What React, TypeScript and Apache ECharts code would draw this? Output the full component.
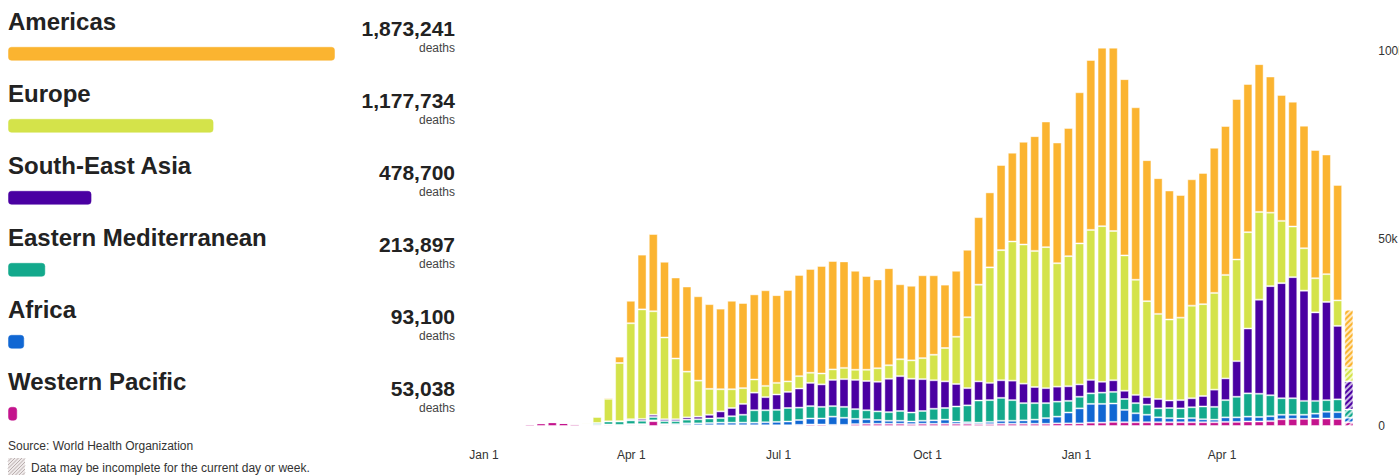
import { useEffect, useRef } from 'react';
import * as echarts from 'echarts';

// ---------- Data ----------
const regions = ['Americas', 'Europe', 'South-East Asia', 'Eastern Mediterranean', 'Africa', 'Western Pacific'];
const regionTotals = [1873241, 1177734, 478700, 213897, 93100, 53038];
const regionColors = ['#fbb430', '#d4e34a', '#4a00a2', '#13a98c', '#1167d3', '#c4148d'];

const firstWeekStart = '2020-01-20';
// weekly deaths, thousands
const weeklyAmericas = [0, 0, 0, 0, 0, 0, 0, 0.1, 0.35, 1.7, 6.0, 14.6, 20.6, 20.2, 21.6, 22.7, 22.5, 22.6, 21.5, 23.6, 22.7, 22.7, 25.5, 23.4, 24.4, 27.0, 27.7, 28.7, 28.9, 28.4, 26.4, 25.0, 23.7, 25.9, 20.0, 19.9, 22.1, 21.2, 16.9, 17.6, 18.0, 18.0, 20.0, 22.7, 23.7, 27.4, 30.6, 33.5, 32.2, 34.2, 40.3, 45.3, 47.6, 48.9, 47.0, 46.0, 37.6, 36.2, 34.4, 32.7, 33.7, 35.0, 38.7, 39.7, 42.8, 39.5, 39.4, 36.3, 33.6, 33.3, 32.7, 34.2, 31.9, 30.8, 15.5];
const weeklyEurope = [0, 0, 0, 0, 0, 0, 0.3, 1.6, 6.0, 15.5, 25.6, 29.2, 27.6, 21.8, 16.2, 12.2, 9.6, 6.9, 5.9, 5.0, 4.2, 3.5, 3.0, 3.1, 2.8, 3.3, 2.7, 2.9, 2.8, 3.0, 2.7, 3.0, 3.6, 3.6, 4.5, 4.9, 5.6, 6.8, 8.9, 12.6, 18.9, 25.8, 30.8, 34.7, 37.1, 37.1, 36.3, 37.6, 32.9, 34.7, 37.6, 40.0, 41.5, 39.8, 36.1, 30.7, 25.6, 22.7, 21.6, 22.0, 24.7, 24.5, 25.8, 27.6, 27.1, 25.7, 23.4, 19.6, 16.6, 13.5, 11.3, 9.1, 7.4, 6.8, 3.6];
const weeklySouthEastAsia = [0, 0, 0, 0, 0, 0, 0, 0.02, 0.05, 0.1, 0.3, 0.5, 0.6, 0.5, 0.5, 0.6, 0.7, 1.0, 1.8, 2.2, 2.9, 4.7, 3.5, 4.1, 4.3, 5.1, 6.2, 6.0, 7.0, 7.4, 7.8, 7.8, 7.9, 8.9, 9.3, 9.0, 8.5, 7.6, 7.1, 6.0, 4.6, 5.1, 4.6, 4.7, 5.2, 5.2, 4.3, 4.0, 4.0, 3.9, 3.3, 3.6, 2.9, 3.1, 2.2, 2.2, 2.0, 2.5, 2.0, 2.2, 2.4, 2.8, 4.6, 5.8, 9.5, 17.3, 25.1, 29.1, 30.7, 32.3, 29.4, 23.6, 26.2, 19.6, 7.5];
const weeklyEasternMediterranean = [0, 0, 0, 0, 0, 0.15, 0.15, 0.45, 0.8, 0.9, 1.0, 0.9, 0.9, 0.8, 0.8, 1.0, 1.1, 1.2, 1.2, 1.7, 2.1, 3.3, 3.2, 3.2, 3.6, 3.3, 3.3, 3.1, 2.8, 2.9, 2.6, 2.4, 2.3, 2.3, 2.6, 2.4, 2.6, 3.1, 3.1, 4.0, 4.5, 5.9, 5.8, 6.1, 5.5, 4.6, 4.4, 4.0, 4.0, 3.1, 3.1, 2.8, 3.0, 3.1, 2.9, 2.7, 2.7, 2.4, 2.7, 2.7, 2.9, 3.4, 3.4, 4.6, 5.5, 6.2, 6.2, 5.6, 4.4, 4.4, 3.7, 3.4, 3.1, 3.4, 2.2];
const weeklyAfrica = [0, 0, 0, 0, 0, 0, 0, 0.05, 0.1, 0.1, 0.2, 0.2, 0.2, 0.2, 0.3, 0.4, 0.5, 0.6, 0.7, 0.7, 0.7, 0.7, 0.8, 0.9, 1.0, 1.3, 1.6, 1.6, 2.2, 1.9, 1.4, 1.2, 1.0, 0.8, 0.8, 0.7, 0.8, 0.9, 1.1, 0.6, 0.4, 0.4, 0.6, 0.8, 0.8, 0.9, 1.1, 1.5, 1.8, 2.9, 4.0, 5.0, 5.0, 4.9, 3.3, 2.4, 2.0, 1.3, 1.1, 1.0, 1.1, 0.8, 0.7, 1.2, 1.2, 1.3, 1.2, 1.3, 1.2, 1.1, 1.1, 1.3, 1.8, 1.8, 1.2];
const weeklyWesternPacific = [0.2, 0.45, 0.7, 1.0, 0.8, 0.45, 0.25, 0.3, 0.3, 0.2, 0.3, 0.3, 1.3, 0.3, 0.2, 0.3, 0.2, 0.2, 0.2, 0.2, 0.2, 0.2, 0.2, 0.2, 0.2, 0.3, 0.4, 0.4, 0.3, 0.3, 0.5, 0.6, 0.6, 0.6, 0.6, 0.5, 0.6, 0.6, 0.6, 0.6, 0.6, 0.5, 0.5, 0.6, 0.6, 0.6, 0.6, 0.6, 0.7, 0.7, 0.7, 0.9, 0.9, 1.1, 1.0, 1.0, 1.0, 1.0, 1.0, 1.0, 1.0, 1.0, 1.0, 1.1, 1.1, 1.2, 1.2, 1.3, 1.8, 1.9, 1.9, 2.0, 2.0, 1.9, 1.0];

const tickDates = ['2020-01-01', '2020-04-01', '2020-07-01', '2020-10-01', '2021-01-01', '2021-04-01'];
const tickLabels = ['Jan 1', 'Apr 1', 'Jul 1', 'Oct 1', 'Jan 1', 'Apr 1'];
const yMax = 105;
const yInterval = 50;

const sourceText = 'Source: World Health Organization';
const noteText = 'Data may be incomplete for the current day or week.';
const unitText = 'deaths';

// ---------- helpers ----------
const DAY = 86400000;
const ts = (s: string) => Date.parse(s + 'T00:00:00Z');
const fmt = (n: number) => n.toLocaleString('en-US');
const FONT = '"Liberation Sans", Arial, Helvetica, sans-serif';

function tint(hex: string, a: number) {
  const n = parseInt(hex.slice(1), 16);
  return `rgba(${(n >> 16) & 255},${(n >> 8) & 255},${n & 255},${a})`;
}

export default function App() {
  const ref = useRef<HTMLDivElement>(null);

  useEffect(() => {
    if (!ref.current) return;
    const chart = echarts.init(ref.current, undefined, { renderer: 'svg' });

    // stacking order: bottom -> top
    const stackOrder = [
      { idx: 5, data: weeklyWesternPacific },
      { idx: 4, data: weeklyAfrica },
      { idx: 3, data: weeklyEasternMediterranean },
      { idx: 2, data: weeklySouthEastAsia },
      { idx: 1, data: weeklyEurope },
      { idx: 0, data: weeklyAmericas },
    ];
    const t0 = ts(firstWeekStart);
    const origin = ts(tickDates[0]);
    const tickDays = tickDates.map((d) => Math.round((ts(d) - origin) / DAY));

    // layout of main grid (pixels)
    const pxPerDay = 11.33 / 7;
    const originX = 484;
    const minDay = -20;
    const maxDay = 550;
    const gridLeft = originX + minDay * pxPerDay;
    const gridWidth = (maxDay - minDay) * pxPerDay;
    const baseY = 426;
    const pxPerK = 3.75;
    const gridTop = baseY - yMax * pxPerK;

    const barSeries = stackOrder.map(({ idx, data }) => {
      const color = regionColors[idx];
      return {
        type: 'bar',
        name: regions[idx],
        stack: 'deaths',
        xAxisIndex: 0,
        yAxisIndex: 0,
        barWidth: 9,
        itemStyle: { color, borderColor: 'rgba(255,255,255,0.45)', borderWidth: 1 },
        data: data.map((v, i) => {
          const t = t0 + i * 7 * DAY;
          if (i === data.length - 1) {
            return {
              value: [t, v],
              itemStyle: {
                color: tint(color, 0.3),
                decal: {
                  symbol: 'rect',
                  symbolSize: 1,
                  color: color,
                  dashArrayX: [1, 0],
                  dashArrayY: [2, 2],
                  rotation: -Math.PI / 4,
                },
              },
            };
          }
          return [t, v];
        }),
      };
    });

    // left panel horizontal bars
    const rowTop = 17.8;
    const rowH = 72;
    const leftSeries = {
      type: 'bar',
      xAxisIndex: 2,
      yAxisIndex: 1,
      barWidth: 14,
      data: regionTotals.map((v, i) => ({
        value: v,
        itemStyle: {
          color: regionColors[i],
          borderRadius: 3,
          borderColor: tint(regionColors[i], 0.5),
          borderWidth: 1,
        },
      })),
    };

    const graphics: any[] = [];
    regions.forEach((name, i) => {
      const c = rowTop + rowH / 2 + rowH * i;
      graphics.push({
        type: 'text', x: 8, y: c - 32,
        style: { text: name, fontSize: 24, fontWeight: 'bold', fontFamily: FONT, fill: '#222', align: 'left', verticalAlign: 'middle' },
      });
      graphics.push({
        type: 'text', x: 455, y: c - 25.1,
        style: { text: fmt(regionTotals[i]), fontSize: 21, fontWeight: 'bold', fontFamily: FONT, fill: '#222', align: 'right', verticalAlign: 'middle' },
      });
      graphics.push({
        type: 'text', x: 455, y: c - 6.3,
        style: { text: unitText, fontSize: 12, fontFamily: FONT, fill: '#444', align: 'right', verticalAlign: 'middle' },
      });
    });
    graphics.push({
      type: 'text', x: 8, y: 446,
      style: { text: sourceText, fontSize: 12, fontFamily: FONT, fill: '#333', align: 'left', verticalAlign: 'middle' },
    });
    // hatch icon
    const ix = 8, iy = 458, s = 17;
    graphics.push({ type: 'rect', shape: { x: ix, y: iy, width: s, height: s }, style: { fill: '#efeaea' } });
    for (let t = -s; t <= s; t += 3.5) {
      const sx = t < 0 ? 0 : t;
      const sy = t < 0 ? s + t : s;
      const ex = t > 0 ? s : t + s;
      const ey = t > 0 ? t : 0;
      graphics.push({
        type: 'line',
        shape: { x1: ix + sx, y1: iy + sy, x2: ix + ex, y2: iy + ey },
        style: { stroke: '#b9aeae', lineWidth: 1 },
      });
    }
    graphics.push({
      type: 'text', x: 31, y: 467.5,
      style: { text: noteText, fontSize: 12, fontFamily: FONT, fill: '#333', align: 'left', verticalAlign: 'middle' },
    });

    chart.setOption({
      animation: false,
      textStyle: { fontFamily: FONT },
      grid: [
        { left: gridLeft, top: gridTop, width: gridWidth, height: baseY - gridTop, outerBoundsMode: 'none', containLabel: false },
        { left: 8, top: rowTop, width: 327, height: rowH * regions.length, outerBoundsMode: 'none', containLabel: false },
      ],
      xAxis: [
        {
          type: 'time',
          gridIndex: 0,
          min: origin + minDay * DAY,
          max: origin + maxDay * DAY,
          show: false,
        },
        {
          type: 'value',
          gridIndex: 0,
          position: 'bottom',
          min: minDay,
          max: maxDay,
          axisLine: { show: false },
          axisTick: { show: false },
          splitLine: { show: false },
          axisLabel: {
            customValues: tickDays,
            formatter: (v: number) => {
              const k = tickDays.indexOf(v);
              return k >= 0 ? tickLabels[k] : '';
            },
            color: '#333',
            fontSize: 12,
            margin: 23,
          },
        },
        { type: 'value', gridIndex: 1, min: 0, max: regionTotals[0], show: false },
      ],
      yAxis: [
        {
          type: 'value',
          gridIndex: 0,
          position: 'right',
          min: 0,
          max: yMax,
          interval: yInterval,
          axisLine: { show: false },
          axisTick: { show: false },
          splitLine: { show: false },
          axisLabel: {
            showMaxLabel: false,
            formatter: (v: number) => (v === 0 ? '0' : v + 'k'),
            color: '#333',
            fontSize: 12,
            margin: 4,
          },
        },
        { type: 'category', gridIndex: 1, data: regions, inverse: true, show: false },
      ],
      series: [...barSeries, leftSeries],
      graphic: graphics,
    });

    return () => chart.dispose();
  }, []);

  return <div ref={ref} style={{ position: 'absolute', left: 0, top: 0, width: 1399, height: 475 }} />;
}
